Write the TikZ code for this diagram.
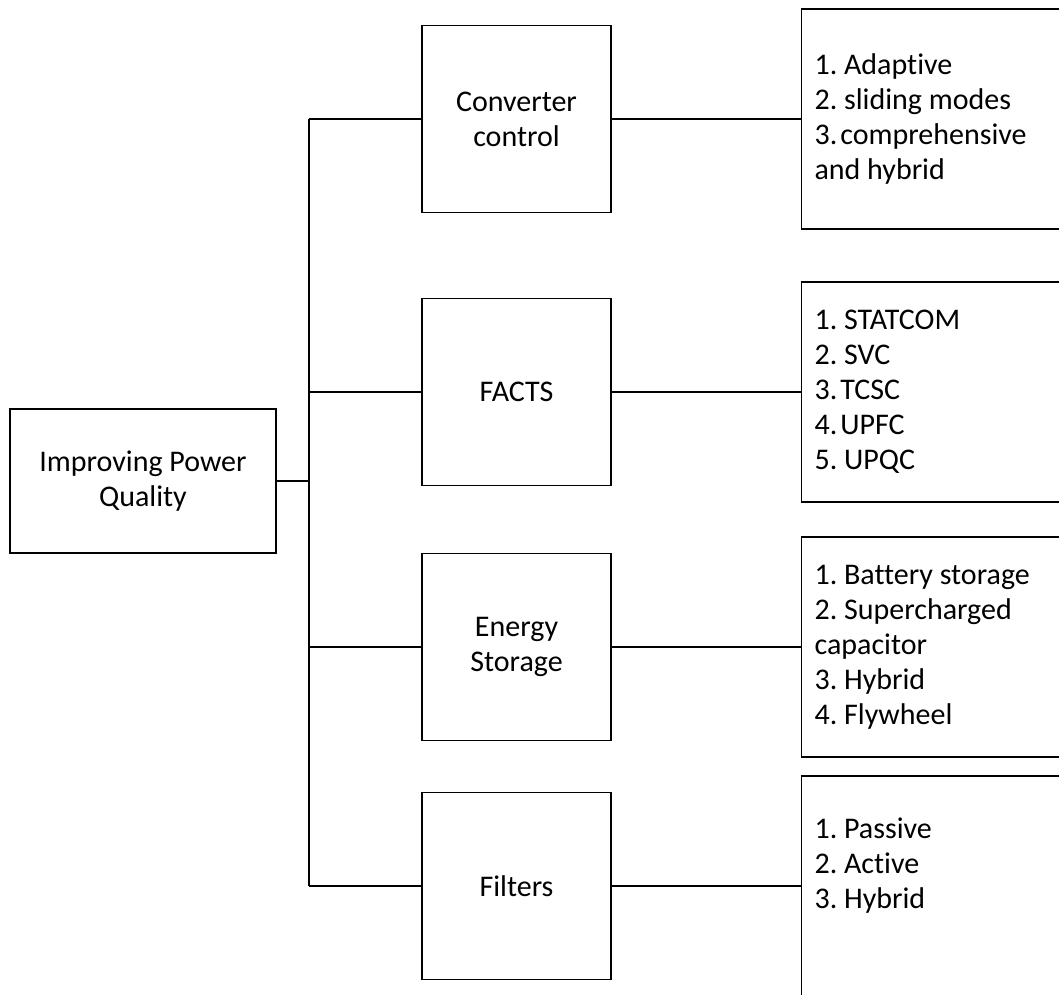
\documentclass[tikz,border=0pt]{standalone}
\usepackage{fontspec}
\setmainfont{Carlito}[Ligatures=CommonOff]
\frenchspacing
\begin{document}
\begin{tikzpicture}[x=1pt,y=-1pt,
  box/.style={draw=black, line width=1.1pt, inner sep=0pt,
    font=\fontsize{30}{35}\selectfont\frenchspacing, align=center},
  midbox/.style={box, minimum width=189pt, minimum height=187pt},
  rootbox/.style={box, minimum width=266pt, minimum height=144pt},
  listbox/.style={box, minimum height=220pt, text width=266pt,
    inner xsep=13pt, align=flush left, anchor=west},
  wire/.style={line width=2pt}]
  \useasboundingbox (0,0) rectangle (1059,994);
  \clip (0,0) rectangle (1059,994);
  \fill[white] (0,0) rectangle (1059,994);

  % root
  \node[rootbox] (root) at (143,481) {Improving Power\\Quality};

  % bus
  \coordinate (bustop) at (308.5,119);
  \coordinate (busbot) at (308.5,886);
  \coordinate (busmid) at (308.5,481);

  % second level
  \node[midbox] (conv) at (516.5,119) {Converter\\control};
  \node[midbox] (facts) at (516.5,392) {FACTS};
  \node[midbox] (stor) at (516.5,647) {Energy\\Storage};
  \node[midbox] (filt) at (516.5,886) {Filters};

  % third level
  \node[listbox] (lconv) at (801,119)
    {1. Adaptive\\2. sliding modes\\3.\kern0.1em comprehensive\\and hybrid};
  \node[listbox] (lfacts) at (801,392)
    {1. STATCOM\\2. SVC\\3.\kern0.1em TCSC\\4.\kern0.1em UPFC\\5. UPQC};
  \node[listbox] (lstor) at (801,647)
    {1. Battery storage\\2. Supercharged\\capacitor\\3. Hybrid\\4. Flywheel};
  \node[listbox] (lfilt) at (801,886)
    {1. Passive\\2. Active\\3. Hybrid\\\strut};

  % connectors
  \draw[wire] (root.east) -- (busmid);
  \draw[wire] (bustop) -- (busbot);
  \draw[wire] (bustop) -- (conv.west);
  \draw[wire] (busmid |- facts.west) -- (facts.west);
  \draw[wire] (busmid |- stor.west) -- (stor.west);
  \draw[wire] (busbot) -- (filt.west);
  \draw[wire] (conv.east) -- (lconv.west);
  \draw[wire] (facts.east) -- (lfacts.west);
  \draw[wire] (stor.east) -- (lstor.west);
  \draw[wire] (filt.east) -- (lfilt.west);
\end{tikzpicture}
\end{document}
